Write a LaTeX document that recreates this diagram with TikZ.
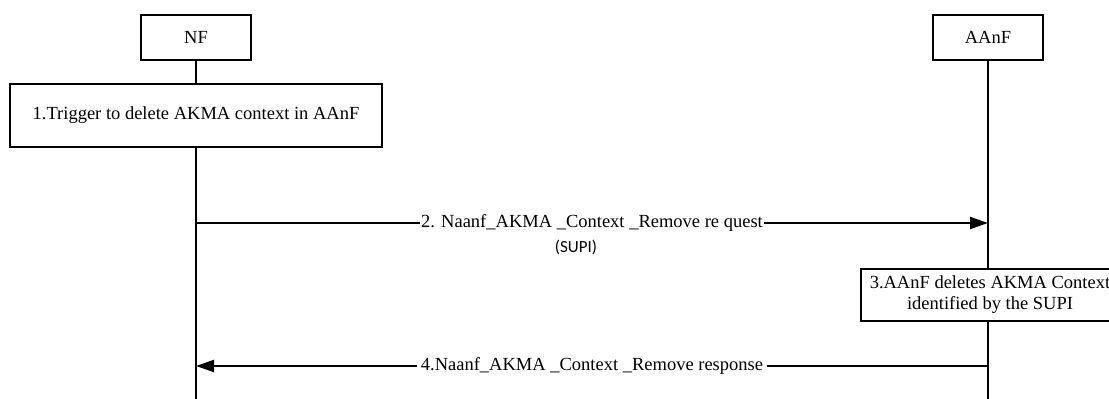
\documentclass[tikz,border=0pt]{standalone}
\usepackage{fontspec}
\setmainfont{Liberation Serif}
\newfontfamily\supifont{Carlito}
\usetikzlibrary{arrows.meta,positioning,calc}

\begin{document}
\begin{tikzpicture}[
    x=1pt, y=1pt,
    font=\fontsize{18.5}{21}\selectfont,
    entity/.style={rectangle, draw, line width=2.4pt, fill=white, minimum width=110pt, minimum height=45pt, align=center},
    action/.style={rectangle, draw, line width=2.4pt, fill=white, align=center, inner sep=2pt},
    life/.style={line width=2pt},
    msg/.style={line width=2pt, -{Triangle[length=18pt,width=12pt]}},
    msglabel/.style={fill=white, inner sep=1pt}
]
    \useasboundingbox (0,0) rectangle (1109,399);

    \node[entity] (nf) at (196,361.5) {NF};
    \node[entity] (aanf) at (988,361.5) {AAnF};
    \node[action, minimum width=372pt, minimum height=63pt] (trigger) at (196,283.5) {1.Trigger to delete AKMA context in AAnF};
    \node[action, minimum width=258pt, minimum height=52pt] (remove) at (990,104) {3.AAnF deletes AKMA Context\\identified by the SUPI};

    \coordinate (nf-end) at (196,0);
    \coordinate (aanf-end) at (988,0);

    % lifelines
    \draw[life] (nf) -- (trigger);
    \draw[life] (trigger) -- (nf-end);
    \draw[life] (aanf.south) -- (aanf.south |- remove.north);
    \draw[life] (aanf.south |- remove.south) -- (aanf-end);

    % messages
    \draw[msg] (nf-end |- 0,176) -- (aanf-end |- 0,176) node[midway, msglabel] (req) {2. Naanf\_AKMA \_Context \_Remove re quest};
    \node[below=3pt of req, font=\supifont\fontsize{17}{19}\selectfont, xshift=-16pt] (supi) {(SUPI)};
    \draw[msg] (aanf-end |- 0,33) -- (nf-end |- 0,33) node[midway, msglabel, inner xsep=4pt] (resp) {4.Naanf\_AKMA \_Context \_Remove response};
\end{tikzpicture}
\end{document}
